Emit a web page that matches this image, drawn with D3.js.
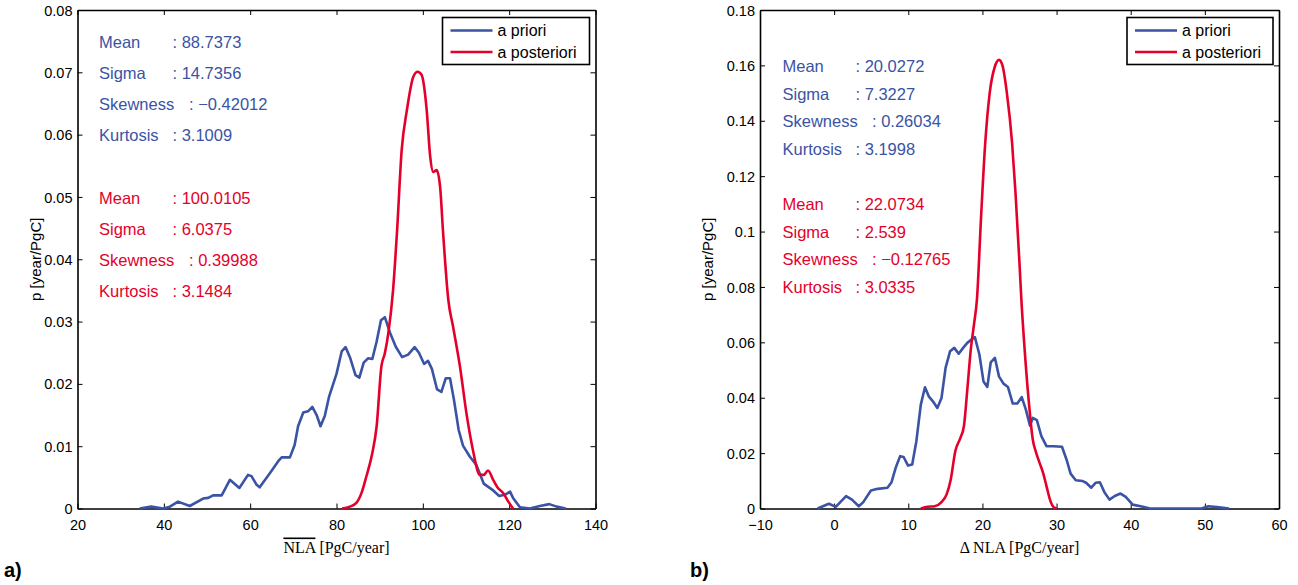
<!DOCTYPE html>
<html><head><meta charset="utf-8">
<script src="https://cdn.jsdelivr.net/npm/d3@7"></script>
<style>
html,body{margin:0;padding:0;background:#fff;}
svg{display:block;font-family:"Liberation Sans",Arial,Helvetica,sans-serif;}
</style></head>
<body>
<svg id="chart" width="1298" height="585"></svg>
<script>
// ---------- DATA ----------
const seriesNames = ["a priori", "a posteriori"];
const colors = ["#3a53a4", "#e4002b"];

// Panel a) : NLA mean
const aXTicks = [20, 40, 60, 80, 100, 120, 140];
const aYTicks = [0, 0.01, 0.02, 0.03, 0.04, 0.05, 0.06, 0.07, 0.08];
const aYTickLabels = ["0", "0.01", "0.02", "0.03", "0.04", "0.05", "0.06", "0.07", "0.08"];
const aPriorX = [34.4,37.1,39.8,41.4,43.3,46.0,49.1,50.3,51.4,53.4,55.3,57.5,59.5,60.3,61.5,62.2,64.6,66.5,67.3,69.2,70.3,71.1,72.3,73.4,74.4,75.4,76.3,77.3,78.3,80.0,81.2,82.1,83.2,84.4,85.3,86.3,87.3,88.3,89.3,90.3,91.2,92.4,93.7,95.2,96.6,98.1,99.1,100.3,101.2,102.1,103.3,104.3,105.3,106.3,107.2,108.3,109.3,110.9,112.4,114.1,116.3,117.7,119.0,120.2,120.9,122.5,124.8,127.1,129.3,131.0,133.1];
const aPriorY = [0,0.0003,0,0.0003,0.0011,0.0004,0.0016,0.0017,0.0021,0.0021,0.0046,0.0033,0.0054,0.0052,0.0038,0.0034,0.0057,0.0076,0.0082,0.0082,0.0102,0.0132,0.0154,0.0156,0.0163,0.0150,0.0132,0.0149,0.0180,0.0216,0.0252,0.0259,0.0241,0.0214,0.0210,0.0234,0.0241,0.0240,0.0268,0.0302,0.0307,0.0282,0.0260,0.0243,0.0247,0.0259,0.0250,0.0232,0.0237,0.0224,0.0191,0.0187,0.0209,0.0209,0.0175,0.0126,0.0101,0.0083,0.0070,0.0040,0.0029,0.0020,0.0022,0.0027,0.0017,0.0002,0,0.0004,0.0007,0.0003,0];
const aPostX = [81.3,83.1,84.6,85.8,86.9,88.3,89.3,90.4,91.2,92.0,93.1,94.0,95.1,96.3,97.8,98.8,99.7,100.9,101.7,102.4,103.2,104.0,104.7,105.9,107.0,108.6,110.1,111.6,113.2,114.1,115.1,116.3,117.4,118.6,119.8,120.9];
const aPostY = [0,0.0003,0.0009,0.0025,0.0051,0.0089,0.0132,0.0228,0.0249,0.0281,0.0350,0.0442,0.0575,0.0639,0.0693,0.0701,0.0696,0.0639,0.0565,0.0540,0.0543,0.0516,0.0442,0.0335,0.0292,0.0228,0.0153,0.0094,0.0054,0.0054,0.0061,0.0046,0.0033,0.0025,0.0011,0];
const aPriorStats = [["Mean", ": 88.7373"], ["Sigma", ": 14.7356"], ["Skewness", ": \u22120.42012"], ["Kurtosis", ": 3.1009"]];
const aPostStats = [["Mean", ": 100.0105"], ["Sigma", ": 6.0375"], ["Skewness", ": 0.39988"], ["Kurtosis", ": 3.1484"]];

// Panel b) : Delta NLA
const bXTicks = [-10, 0, 10, 20, 30, 40, 50, 60];
const bYTicks = [0, 0.02, 0.04, 0.06, 0.08, 0.1, 0.12, 0.14, 0.16, 0.18];
const bYTickLabels = ["0", "0.02", "0.04", "0.06", "0.08", "0.1", "0.12", "0.14", "0.16", "0.18"];
const bPriorX = [-2.24,-0.71,0.22,1.61,2.40,3.33,3.93,4.96,5.88,7.19,7.74,8.30,8.90,9.37,9.97,10.53,11.09,11.69,12.25,12.76,13.32,13.92,14.48,15.03,15.64,16.20,16.80,17.40,17.96,18.52,18.98,19.59,20.14,20.66,21.12,21.68,22.23,22.84,23.44,24.09,24.70,25.30,25.86,26.41,26.79,27.34,27.95,28.64,29.57,30.73,31.34,31.89,32.59,33.52,33.98,34.68,35.29,35.84,36.45,37.14,37.84,38.63,39.33,40.26,41.65,42.58,49.55,50.47,51.64,53.26];
const bPriorY = [0,0.0017,0.0006,0.0045,0.0032,0.0008,0.0023,0.0065,0.0071,0.0075,0.0095,0.0147,0.0189,0.0186,0.0155,0.0159,0.0243,0.0375,0.0438,0.0405,0.0387,0.0363,0.0399,0.0508,0.0568,0.0580,0.0559,0.0580,0.0598,0.0610,0.0619,0.0556,0.0459,0.0439,0.0528,0.0544,0.0477,0.0451,0.0439,0.0379,0.0379,0.0402,0.0357,0.0299,0.0327,0.0319,0.0261,0.0225,0.0225,0.0223,0.0177,0.0126,0.0102,0.0099,0.0093,0.0075,0.0093,0.0095,0.0059,0.0032,0.0045,0.0054,0.0042,0.0014,0.0006,0,0,0.0008,0.0005,0];
const bPostX = [11.69,12.62,13.55,14.48,15.17,15.73,16.34,17.03,17.50,17.96,18.43,18.89,19.26,19.82,20.38,20.98,21.68,22.23,22.70,23.30,24.00,24.46,25.02,25.25,25.63,26.23,26.79,27.25,27.71,28.18,28.64,29.11,29.57,30.04];
const bPostY = [0,0.0006,0.0008,0.0023,0.0051,0.0105,0.0207,0.0255,0.0297,0.0429,0.0574,0.0670,0.0755,0.1055,0.1320,0.1500,0.1596,0.1620,0.1600,0.1500,0.1320,0.1140,0.0875,0.0755,0.0598,0.0393,0.0249,0.0201,0.0165,0.0129,0.0081,0.0032,0.0006,0];
const bPriorStats = [["Mean", ": 20.0272"], ["Sigma", ": 7.3227"], ["Skewness", ": 0.26034"], ["Kurtosis", ": 3.1998"]];
const bPostStats = [["Mean", ": 22.0734"], ["Sigma", ": 2.539"], ["Skewness", ": \u22120.12765"], ["Kurtosis", ": 3.0335"]];

// ---------- DRAW ----------
const svg = d3.select("#chart");
const zip = (xs, ys) => xs.map((x, i) => [x, ys[i]]);

function panel(cfg) {
  const g = svg.append("g").attr("transform", `translate(${cfg.left},${cfg.top})`);
  const x = d3.scaleLinear().domain(cfg.xDomain).range([0, cfg.width]);
  const y = d3.scaleLinear().domain(cfg.yDomain).range([cfg.height, 0]);

  const fmtX = d => (d < 0 ? "\u2212" + Math.abs(d) : String(d));
  const yLab = d => cfg.yTickLabels[cfg.yTicks.indexOf(d)];
  const gx = g.append("g").attr("transform", `translate(0,${cfg.height})`)
    .call(d3.axisBottom(x).tickValues(cfg.xTicks).tickSizeInner(-5).tickSizeOuter(0).tickPadding(8).tickFormat(fmtX));
  const gy = g.append("g").call(d3.axisLeft(y).tickValues(cfg.yTicks).tickSizeInner(-5).tickSizeOuter(0).tickPadding(5).tickFormat(yLab));
  const gt = g.append("g").call(d3.axisTop(x).tickValues(cfg.xTicks).tickSizeInner(-5).tickSizeOuter(0).tickFormat(""));
  const gr = g.append("g").attr("transform", `translate(${cfg.width},0)`).call(d3.axisRight(y).tickValues(cfg.yTicks).tickSizeInner(-5).tickSizeOuter(0).tickFormat(""));
  [gx, gy, gt, gr].forEach(a => {
    a.select(".domain").attr("stroke", "#000").attr("stroke-width", 1.6);
    a.selectAll(".tick line").attr("stroke", "#000").attr("stroke-width", 1);
    a.selectAll(".tick text").attr("fill", "#000").style("font-size", "14.5px").style("font-family", '"Liberation Sans",Arial,sans-serif');
  });
  gx.selectAll(".tick text").attr("dy", "0.9em");
  gy.selectAll(".tick text").attr("dy", "0.35em");

  // curves
  const line = (curve) => d3.line().x(d => x(d[0])).y(d => y(d[1])).curve(curve);
  g.append("path").datum(zip(cfg.priorX, cfg.priorY))
    .attr("fill", "none").attr("stroke", colors[0]).attr("stroke-width", 2.6).attr("stroke-linejoin", "round")
    .attr("d", line(d3.curveLinear));
  g.append("path").datum(zip(cfg.postX, cfg.postY))
    .attr("fill", "none").attr("stroke", colors[1]).attr("stroke-width", 2.6).attr("stroke-linejoin", "round")
    .attr("d", line(d3.curveMonotoneX));

  // stats text
  const statBlock = (stats, color, y0) => {
    stats.forEach((s, i) => {
      const ty = y0 + i * cfg.lineGap;
      g.append("text").attr("x", cfg.statX).attr("y", ty).attr("fill", color)
        .style("font-size", "16.5px").text(s[0]);
      g.append("text").attr("x", s[0] === "Skewness" ? cfg.colonX2 : cfg.colonX).attr("y", ty).attr("fill", color)
        .style("font-size", "16.5px").text(s[1]);
    });
  };
  statBlock(cfg.priorStats, colors[0], cfg.statY1);
  statBlock(cfg.postStats, colors[1], cfg.statY2);

  // legend
  const lg = g.append("g").attr("transform", `translate(${cfg.width - cfg.legW - 6},7.5)`);
  lg.append("rect").attr("width", cfg.legW).attr("height", 47).attr("fill", "#fff").attr("stroke", "#000").attr("stroke-width", 1.6);
  seriesNames.forEach((n, i) => {
    const ly = 13 + i * 21.5;
    lg.append("line").attr("x1", 8).attr("x2", 50).attr("y1", ly).attr("y2", ly).attr("stroke", colors[i]).attr("stroke-width", 2.6);
    lg.append("text").attr("x", 55).attr("y", ly).attr("dy", "0.35em").style("font-size", "16px").attr("fill", "#000").text(n);
  });

  // axis titles
  g.append("text").attr("transform", `translate(${cfg.yTitleOff},${cfg.height / 2}) rotate(-90)`)
    .attr("text-anchor", "middle").style("font-size", "15px").attr("fill", "#000").text("p [year/PgC]");
  const xt = g.append("text").attr("x", cfg.width / 2).attr("y", cfg.height + 44)
    .attr("text-anchor", "middle").style("font-family", '"Liberation Serif","Times New Roman",serif').style("font-size", "16px").attr("fill", "#000");
  cfg.xTitle(xt);

  svg.append("text").attr("x", cfg.letterX).attr("y", 577).style("font-size", "20px").style("font-weight", "bold").attr("fill", "#000").text(cfg.letter);
}

panel({
  left: 77.5, top: 10, width: 518, height: 498.5,
  xDomain: [20, 140], yDomain: [0, 0.08], xTicks: aXTicks, yTicks: aYTicks, yTickLabels: aYTickLabels,
  priorX: aPriorX, priorY: aPriorY, postX: aPostX, postY: aPostY,
  priorStats: aPriorStats, postStats: aPostStats,
  statX: 21.5, colonX: 95, colonX2: 111.5, statY1: 37.5, statY2: 193.5, lineGap: 31,
  legW: 147, yTitleOff: -37,
  xTitle: t => { t.append("tspan").style("text-decoration", "overline").text("NLA"); t.append("tspan").text(" [PgC/year]"); },
  letter: "a)", letterX: 4
});

panel({
  left: 760, top: 10, width: 519, height: 498.5,
  xDomain: [-10, 60], yDomain: [0, 0.18], xTicks: bXTicks, yTicks: bYTicks, yTickLabels: bYTickLabels,
  priorX: bPriorX, priorY: bPriorY, postX: bPostX, postY: bPostY,
  priorStats: bPriorStats, postStats: bPostStats,
  statX: 22.5, colonX: 95.5, colonX2: 112, statY1: 62, statY2: 200, lineGap: 27.6,
  legW: 146, yTitleOff: -47,
  xTitle: t => { t.text("\u0394 NLA [PgC/year]"); },
  letter: "b)", letterX: 690
});
</script>
</body></html>
